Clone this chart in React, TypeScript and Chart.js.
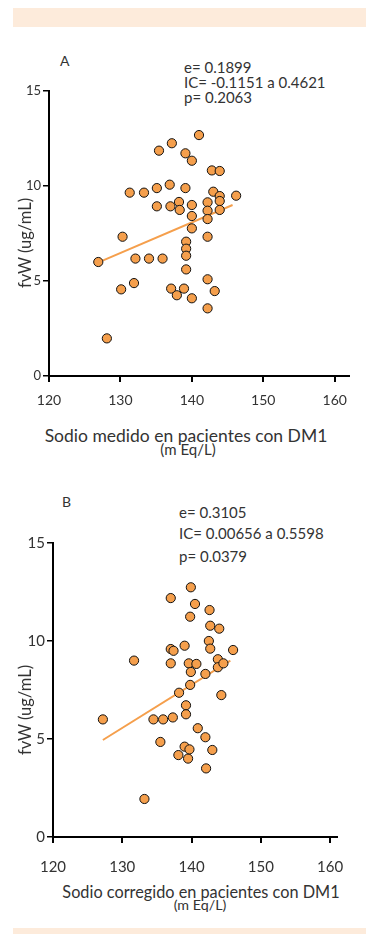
import React, { useEffect, useRef } from 'react';
import { Chart, registerables } from 'chart.js';

Chart.register(...registerables);

const FONT = 'Lato';

const xTickValues = [120, 130, 140, 150, 160];
const yTickValues = [0, 5, 10, 15];

// Panel A: Sodio medido vs fvW
const sodioMedido = [
  126.9, 128.1, 130.1, 130.3, 131.3, 131.9, 132.1, 133.3, 134.0, 135.1,
  135.4, 135.1, 135.9, 137.0, 136.9, 137.2, 137.1, 137.9, 138.2, 138.3,
  138.9, 139.1, 139.1, 139.2, 139.2, 139.2, 139.2, 140.0, 140.0, 140.0,
  140.0, 140.0, 141.0, 142.2, 142.2, 142.2, 142.2, 142.2, 142.2, 142.8,
  143.0, 143.2, 143.9, 143.9, 143.9, 143.9, 146.2,
];
const fvwA = [
  6.0, 1.98, 4.56, 7.33, 9.65, 4.89, 6.18, 9.65, 6.18, 9.89,
  11.86, 8.93, 6.18, 8.93, 10.07, 12.25, 4.6, 4.25, 9.16, 8.74,
  4.6, 9.89, 11.72, 7.07, 6.7, 6.33, 5.61, 11.33, 9.0, 8.42,
  7.77, 4.09, 12.68, 9.14, 8.7, 8.26, 7.33, 5.09, 3.56, 10.82,
  9.7, 4.47, 9.47, 9.21, 8.74, 10.79, 9.49,
];
const trendAx = [127.5, 145.7];
const trendAy = [6.07, 9.0];

// Panel B: Sodio corregido vs fvW
const sodioCorregido = [
  127.2, 131.7, 133.2, 134.5, 135.5, 135.9, 137.0, 137.4, 137.0, 137.3,
  138.2, 138.1, 139.0, 139.0, 139.2, 139.2, 139.5, 139.7, 139.6, 139.9,
  139.8, 139.8, 140.7, 140.5, 140.9, 142.0, 142.0, 142.1, 142.6, 142.7,
  142.5, 142.7, 143.0, 143.8, 143.8, 144.6, 144.0, 144.3, 146.0, 137.0,
  139.9,
];
const fvwB = [
  6.0, 9.0, 1.94, 6.0, 4.85, 6.0, 9.59, 9.5, 8.86, 6.1,
  7.36, 4.18, 4.61, 9.76, 6.72, 6.26, 4.0, 4.47, 8.86, 8.42,
  7.76, 11.24, 8.83, 11.89, 5.55, 8.32, 5.09, 3.5, 11.58, 10.78,
  10.0, 9.61, 4.44, 9.07, 8.66, 8.86, 10.63, 7.24, 9.54, 12.19,
  12.74,
];
const trendBx = [127.2, 145.6];
const trendBy = [4.95, 9.0];

const ORANGE = '#F59F4C';
const TEXT = '#333333';

type PanelProps = {
  top: number;
  height: number;
  xs: number[];
  ys: number[];
  tx: number[];
  ty: number[];
  xMax: number;
  padTop: number;
  padRight: number;
  yWidth: number;
  xHeight: number;
  xFont: number;
  yFont: number;
  xPad: number;
};

function Panel(p: PanelProps) {
  const ref = useRef<HTMLCanvasElement | null>(null);
  useEffect(() => {
    if (!ref.current) return;
    const points = p.xs.map((x, i) => ({ x, y: p.ys[i] }));
    const trend = p.tx.map((x, i) => ({ x, y: p.ty[i] }));
    const chart = new Chart(ref.current, {
      type: 'scatter',
      data: {
        datasets: [
          {
            type: 'line',
            data: trend,
            borderColor: ORANGE,
            borderWidth: 2,
            pointRadius: 0,
            fill: false,
            order: 2,
          } as any,
          {
            type: 'scatter',
            data: points,
            backgroundColor: ORANGE,
            borderColor: '#111111',
            borderWidth: 1,
            pointRadius: 4.6,
            order: 1,
          },
        ],
      },
      options: {
        animation: false,
        responsive: false,
        devicePixelRatio: 1,
        layout: { padding: { top: p.padTop, right: p.padRight, left: 0, bottom: 0 } },
        plugins: { legend: { display: false }, tooltip: { enabled: false } },
        scales: {
          x: {
            type: 'linear',
            min: 120,
            max: p.xMax,
            afterBuildTicks: (s: any) => {
              s.ticks = xTickValues.map((v) => ({ value: v }));
            },
            afterFit: (s: any) => {
              s.height = p.xHeight;
            },
            border: { display: true, color: '#000', width: 2 },
            grid: { display: true, drawOnChartArea: false, drawTicks: true, tickLength: 6, color: '#000', lineWidth: 2 },
            ticks: { color: TEXT, font: { family: FONT, size: p.xFont }, padding: p.xPad, maxRotation: 0 },
          },
          y: {
            type: 'linear',
            min: 0,
            max: 15,
            afterBuildTicks: (s: any) => {
              s.ticks = yTickValues.map((v) => ({ value: v }));
            },
            afterFit: (s: any) => {
              s.width = p.yWidth;
            },
            border: { display: true, color: '#000', width: 2 },
            grid: { display: true, drawOnChartArea: false, drawTicks: true, tickLength: 6, color: '#000', lineWidth: 1.5 },
            ticks: { color: TEXT, font: { family: FONT, size: p.yFont }, padding: 2 },
          },
        },
      },
    });
    return () => chart.destroy();
  }, []);
  return (
    <canvas
      ref={ref}
      width={368}
      height={p.height}
      style={{ position: 'absolute', left: 0, top: p.top, width: 368, height: p.height }}
    />
  );
}

function Txt(props: { x: number; cy: number; size: number; children: React.ReactNode; center?: boolean }) {
  const lh = Math.round(props.size * 1.3);
  const style: React.CSSProperties = {
    position: 'absolute',
    top: props.cy - lh / 2,
    fontFamily: FONT,
    fontSize: props.size,
    lineHeight: lh + 'px',
    color: TEXT,
    whiteSpace: 'nowrap',
  };
  if (props.center) {
    style.left = props.x - 200;
    style.width = 400;
    style.textAlign = 'center';
  } else {
    style.left = props.x;
  }
  return <div style={style}>{props.children}</div>;
}

function VTxt(props: { cx: number; cy: number; size: number; children: React.ReactNode }) {
  return (
    <div
      style={{
        position: 'absolute',
        left: props.cx - 100,
        top: props.cy - 10,
        width: 200,
        height: 20,
        lineHeight: '20px',
        textAlign: 'center',
        fontFamily: FONT,
        fontSize: props.size,
        color: TEXT,
        transform: 'rotate(-90deg)',
        whiteSpace: 'nowrap',
      }}
    >
      {props.children}
    </div>
  );
}

export default function App() {
  return (
    <div style={{ position: 'fixed', left: 0, top: 0, width: 368, height: 934, background: '#fff', overflow: 'hidden' }}>
      <div style={{ position: 'absolute', left: 13, top: 8, width: 353, height: 19, background: '#FDEBDB' }} />
      <div style={{ position: 'absolute', left: 13, top: 928, width: 353, height: 6, background: '#FDEBDB' }} />

      {/* Panel A */}
      <Txt x={60} cy={61} size={14}>A</Txt>
      <Txt x={184} cy={67} size={15}>e= 0.1899</Txt>
      <Txt x={184} cy={82} size={15}>IC= -0.1151 a 0.4621</Txt>
      <Txt x={184} cy={97} size={15}>p= 0.2063</Txt>
      <Panel
        top={80}
        height={340}
        xs={sodioMedido}
        ys={fvwA}
        tx={trendAx}
        ty={trendAy}
        xMax={162}
        padTop={11}
        padRight={19}
        yWidth={49}
        xHeight={44}
        xFont={14}
        yFont={13}
        xPad={10}
      />
      <VTxt cx={25} cy={243} size={16.5}>fvW (ug/mL)</VTxt>
      <Txt x={186} cy={435} size={17.5} center>Sodio medido en pacientes con DM1</Txt>
      <Txt x={188} cy={449} size={15} center>(m Eq/L)</Txt>

      {/* Panel B */}
      <Txt x={62} cy={502} size={14}>B</Txt>
      <Txt x={179} cy={512} size={15}>e= 0.3105</Txt>
      <Txt x={179} cy={533} size={15}>IC= 0.00656 a 0.5598</Txt>
      <Txt x={179} cy={556} size={15}>p= 0.0379</Txt>
      <Panel
        top={520}
        height={360}
        xs={sodioCorregido}
        ys={fvwB}
        tx={trendBx}
        ty={trendBy}
        xMax={161}
        padTop={23}
        padRight={31}
        yWidth={53}
        xHeight={43}
        xFont={15}
        yFont={15}
        xPad={15}
      />
      <VTxt cx={25} cy={710} size={16.5}>fvW (ug/mL)</VTxt>
      <Txt x={201} cy={891} size={16.3} center>Sodio corregido en pacientes con DM1</Txt>
      <Txt x={200} cy={904} size={14.3} center>(m Eq/L)</Txt>
    </div>
  );
}
